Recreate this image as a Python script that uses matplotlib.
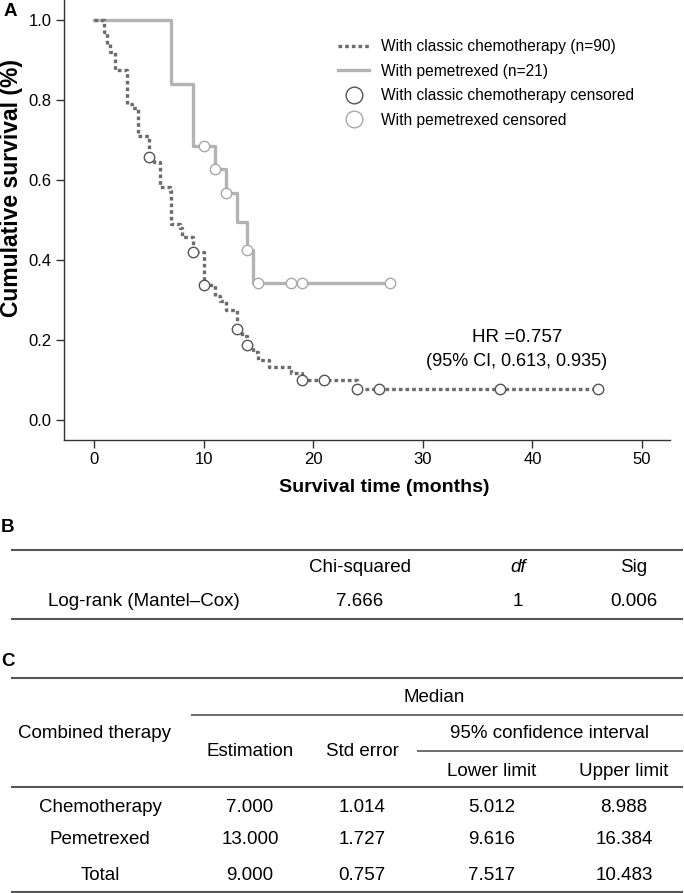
import numpy as np
import matplotlib
matplotlib.use("Agg")
import matplotlib.pyplot as plt
from matplotlib.lines import Line2D

plt.rcParams['font.family'] = ['Liberation Sans', 'DejaVu Sans']

# Kaplan-Meier step data
chemo_t = [0, 0.9, 1.2, 1.5, 1.9, 3.0, 3.5, 4.0, 5.0, 5.5, 6.0, 6.9, 7.0, 7.8, 8.0,
           9.0, 10.0, 11.0, 11.5, 12.0, 13.0, 13.5, 14.0, 14.5, 15.0, 16.0, 18.0,
           19.0, 24.0, 46.0]
chemo_s = [1.0, 0.97, 0.94, 0.92, 0.875, 0.79, 0.78, 0.71, 0.657, 0.645, 0.583, 0.572,
           0.49, 0.48, 0.457, 0.42, 0.337, 0.31, 0.298, 0.275, 0.227, 0.21, 0.187,
           0.17, 0.15, 0.132, 0.117, 0.10, 0.078, 0.078]
chemo_cens = [5, 9, 10, 13, 14, 19, 21, 24, 26, 37, 46]

pem_t = [0, 7, 9, 11, 12, 13, 14, 14.5, 27]
pem_s = [1.0, 0.84, 0.685, 0.627, 0.567, 0.495, 0.425, 0.343, 0.343]
pem_cens = [10, 11, 12, 14, 15, 18, 19, 27]

hr_text = ["HR =0.757", "(95% CI, 0.613, 0.935)"]

# table B
b_header = ["", "Chi-squared", "df", "Sig"]
b_row = ["Log-rank (Mantel\u2013Cox)", "7.666", "1", "0.006"]

# table C
c_groups = ["Chemotherapy", "Pemetrexed", "Total"]
c_est = ["7.000", "13.000", "9.000"]
c_se = ["1.014", "1.727", "0.757"]
c_low = ["5.012", "9.616", "7.517"]
c_up = ["8.988", "16.384", "10.483"]


def step_value(t, s, x):
    i = np.searchsorted(t, x, side='right') - 1
    return np.array(s)[i]


W, H = 684, 893
fig = plt.figure(figsize=(W / 100, H / 100), dpi=100)

# ---- panel A ----
ax = fig.add_axes([64 / W, 1 - 440 / H, (670 - 64) / W, 440 / H])
ax.set_xlim(-2.74, 52.55)
ax.set_ylim(-0.05, 1.05)

c_chemo = '#6c6c6c'
c_pem = '#b3b3b3'

ax.step(pem_t, pem_s, where='post', color=c_pem, lw=2.4, zorder=2)
ax.step(chemo_t, chemo_s, where='post', color=c_chemo, lw=2.4,
        linestyle=(0, (1.1, 0.9)), dash_capstyle='butt', zorder=3)
ax.plot(pem_cens, step_value(pem_t, pem_s, pem_cens), 'o', ms=7.5,
        mfc='white', mec='#a8a8a8', mew=1.0, zorder=4)
ax.plot(chemo_cens, step_value(chemo_t, chemo_s, chemo_cens), 'o', ms=7.5,
        mfc='white', mec='#555555', mew=1.0, zorder=5)

for side in ['top', 'right']:
    ax.spines[side].set_visible(False)
for side in ['left', 'bottom']:
    ax.spines[side].set_color('#333333')
    ax.spines[side].set_linewidth(1.0)
ax.set_xticks([0, 10, 20, 30, 40, 50])
ax.set_yticks([0.0, 0.2, 0.4, 0.6, 0.8, 1.0])
ax.set_yticklabels(['0.0', '0.2', '0.4', '0.6', '0.8', '1.0'])
ax.tick_params(direction='out', length=6, width=1.0, color='#333333',
               labelsize=12, pad=3)

handles = [
    Line2D([], [], color=c_chemo, lw=2.4, linestyle=(0, (1.1, 0.9))),
    Line2D([], [], color=c_pem, lw=2.4),
    Line2D([], [], ls='none', marker='o', ms=12, mfc='white', mec='#555555', mew=1.0),
    Line2D([], [], ls='none', marker='o', ms=12, mfc='white', mec='#a8a8a8', mew=1.0),
]
labels = ["With classic chemotherapy (n=90)", "With pemetrexed (n=21)",
          "With classic chemotherapy censored", "With pemetrexed censored"]
ax.legend(handles, labels, loc='upper left', bbox_to_anchor=(338 / W, 1 - 39 / H),
          bbox_transform=fig.transFigure, frameon=False, fontsize=11.2,
          handlelength=2.0, handletextpad=0.75, labelspacing=0.62, borderpad=0,
          borderaxespad=0)

fig.text(517 / W, 1 - 337 / H, hr_text[0], ha='center', va='center', fontsize=13.5)
fig.text(517 / W, 1 - 362 / H, hr_text[1], ha='center', va='center', fontsize=13)

fig.text(384 / W, 1 - 487 / H, "Survival time (months)", ha='center', va='center',
         fontsize=14, fontweight='bold')
fig.text(12 / W, 1 - 188 / H, "Cumulative survival (%)", ha='center', va='center',
         rotation=90, fontsize=16.5, fontweight='bold')
fig.text(10 / W, 1 - 11 / H, "A", ha='center', va='center', fontsize=13.5, fontweight='bold')

# ---- panels B and C (pixel coordinate overlay) ----
tb = fig.add_axes([0, 0, 1, 1])
tb.set_xlim(0, W)
tb.set_ylim(H, 0)
tb.axis('off')
tb.patch.set_visible(False)

fs = 13.5
lc = '#555555'
tb.text(1, 527, "B", ha='left', va='center', fontsize=13.5, fontweight='bold')
tb.text(1, 661, "C", ha='left', va='center', fontsize=13.5, fontweight='bold')

# table B
b_x = [144, 360, 518, 634]
tb.hlines([550, 619], 11, 683, color=lc, lw=1.5)
for x, h, v in zip(b_x, b_header, b_row):
    tb.text(x, 568, h, ha='center', va='center', fontsize=fs,
            style='italic' if h == 'df' else 'normal')
    tb.text(x, 602, v, ha='center', va='center', fontsize=fs)

# table C
tb.hlines([678, 787, 892], 11, 683, color=lc, lw=1.5)
tb.hlines(715, 191, 683, color=lc, lw=1.2)
tb.hlines(751, 417, 683, color=lc, lw=1.2)
tb.text(434, 697, "Median", ha='center', va='center', fontsize=fs)
tb.text(95, 733, "Combined therapy", ha='center', va='center', fontsize=fs)
tb.text(550, 733, "95% confidence interval", ha='center', va='center', fontsize=fs)
tb.text(250, 752, "Estimation", ha='center', va='center', fontsize=fs)
tb.text(362, 752, "Std error", ha='center', va='center', fontsize=fs)
tb.text(492, 771, "Lower limit", ha='center', va='center', fontsize=fs)
tb.text(624, 771, "Upper limit", ha='center', va='center', fontsize=fs)

c_x = [100, 250, 362, 492, 624]
row_y = [807, 840, 875]
for i, y in enumerate(row_y):
    vals = [c_groups[i], c_est[i], c_se[i], c_low[i], c_up[i]]
    for x, v in zip(c_x, vals):
        tb.text(x, y, v, ha='center', va='center', fontsize=fs)

fig.savefig("out.png", dpi=100)
